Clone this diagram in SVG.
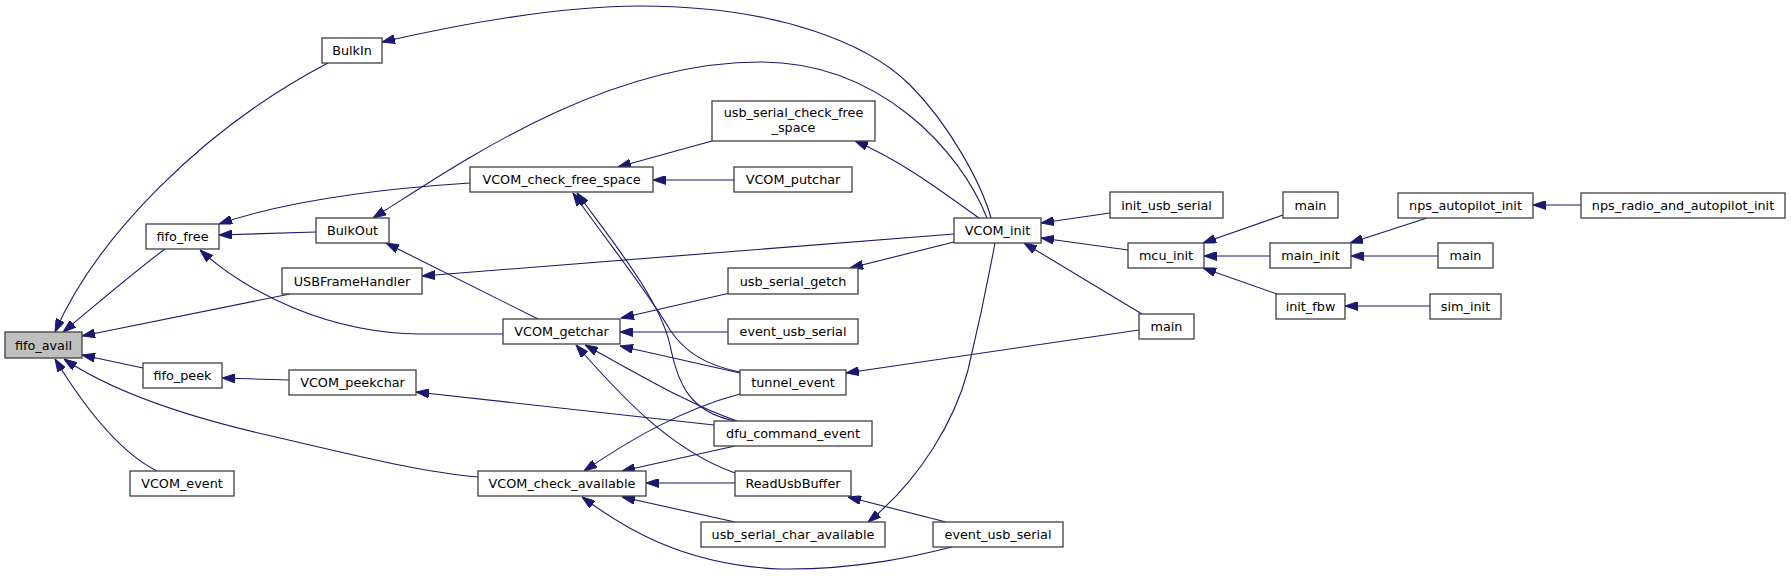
<svg xmlns="http://www.w3.org/2000/svg" width="1791" height="576" viewBox="0 0 1791 576">
<defs>
<marker id="ah" viewBox="0 0 13 9" refX="13" refY="4.5" markerWidth="13" markerHeight="9" markerUnits="userSpaceOnUse" orient="auto-start-reverse">
<path d="M0,0 L13,4.5 L0,9 z" fill="#191970" stroke="#191970" stroke-width="1"/>
</marker>
<style>
.n rect{fill:#fff;stroke:#404040;stroke-width:1.3}
.n text{font-family:"DejaVu Sans",sans-serif;font-size:12.8px;fill:#000;text-anchor:middle}
#fifo_avail rect{fill:#bfbfbf}
#edges path{fill:none;stroke:#191970;stroke-width:1.1;marker-start:url(#ah)}
</style>
</defs>
<rect width="1791" height="576" fill="#fff"/>
<g id="edges">
<path d="M55,332 C 95,240 200,130 328,63"/>
<path d="M63,332 C 90,310 130,275 165,249"/>
<path d="M82,336 L290,294"/>
<path d="M82,355 L143,368"/>
<path d="M55,359 C 80,400 115,450 157,471"/>
<path d="M64,359 C 110,390 180,415 267,435 S 420,472 478,477"/>
<path d="M219,224 C 260,210 330,192 470,183"/>
<path d="M219,235 L316,232"/>
<path d="M200,250 C 250,295 330,333 420,334 L503,334"/>
<path d="M222,378 L289,380"/>
<path d="M382,42 C 470,22 560,6 640,6 C 780,6 870,45 910,85 C 950,125 982,185 991,218"/>
<path d="M373,218 C 450,170 600,62 760,62 C 880,62 960,150 987,218"/>
<path d="M386,243 L538,319"/>
<path d="M618,167 L712,141"/>
<path d="M653,180 L734,180"/>
<path d="M573,193 C 610,245 650,295 670,330 C 685,352 705,365 740,372"/>
<path d="M577,193 C 615,245 660,300 670,345 C 678,385 690,412 735,421"/>
<path d="M855,141 C 900,160 940,190 979,218"/>
<path d="M422,276 L954,234"/>
<path d="M1041,223 L1110,213"/>
<path d="M1041,238 L1128,250"/>
<path d="M1024,243 L1142,314"/>
<path d="M850,268 L954,242"/>
<path d="M868,522 C 920,480 955,420 968,370 C 980,320 990,270 995,243"/>
<path d="M621,318 L730,293"/>
<path d="M620,332 L728,332"/>
<path d="M620,346 L740,373"/>
<path d="M585,345 C 640,375 690,405 737,421"/>
<path d="M576,345 C 620,395 670,450 735,473"/>
<path d="M416,392 L714,425"/>
<path d="M584,471 C 630,440 680,410 740,394"/>
<path d="M622,471 L735,446"/>
<path d="M646,483 L735,483"/>
<path d="M622,497 L735,522"/>
<path d="M582,497 C 620,525 680,565 780,569 C 860,570 920,555 952,547"/>
<path d="M848,497 L946,522"/>
<path d="M846,373 L1139,330"/>
<path d="M1203,243 L1283,215"/>
<path d="M1204,256 L1270,256"/>
<path d="M1203,268 L1277,294"/>
<path d="M1350,243 L1427,218"/>
<path d="M1351,256 L1438,256"/>
<path d="M1345,306 L1430,306"/>
<path d="M1533,205 L1581,205"/>
</g>
<g id="fifo_avail" class="n"><rect x="5" y="332" width="77" height="26"/><text x="43.5" y="349.5">fifo_avail</text></g>
<g id="BulkIn" class="n"><rect x="322" y="38" width="60" height="25"/><text x="352" y="55">BulkIn</text></g>
<g id="fifo_free" class="n"><rect x="146" y="224" width="73" height="25"/><text x="182.5" y="241">fifo_free</text></g>
<g id="BulkOut" class="n"><rect x="316" y="218" width="73" height="25"/><text x="352.5" y="235">BulkOut</text></g>
<g id="USBFrameHandler" class="n"><rect x="282" y="268" width="140" height="26"/><text x="352" y="285.5">USBFrameHandler</text></g>
<g id="fifo_peek" class="n"><rect x="143" y="363" width="79" height="25"/><text x="182.5" y="380">fifo_peek</text></g>
<g id="VCOM_peekchar" class="n"><rect x="289" y="370" width="127" height="25"/><text x="352.5" y="387">VCOM_peekchar</text></g>
<g id="VCOM_event" class="n"><rect x="130" y="471" width="104" height="25"/><text x="182" y="488">VCOM_event</text></g>
<g id="VCOM_check_free_space" class="n"><rect x="470" y="167" width="183" height="25"/><text x="561.5" y="184">VCOM_check_free_space</text></g>
<g id="VCOM_getchar" class="n"><rect x="503" y="319" width="117" height="25"/><text x="561.5" y="336">VCOM_getchar</text></g>
<g id="VCOM_check_available" class="n"><rect x="478" y="471" width="168" height="25"/><text x="562" y="488">VCOM_check_available</text></g>
<g id="usb_serial_check_free_space" class="n"><rect x="712" y="101" width="163" height="40"/><text x="793.5" y="117">usb_serial_check_free</text><text x="793.5" y="132">_space</text></g>
<g id="VCOM_putchar" class="n"><rect x="734" y="167" width="118" height="25"/><text x="793" y="184">VCOM_putchar</text></g>
<g id="usb_serial_getch" class="n"><rect x="728" y="268" width="130" height="26"/><text x="793" y="285.5">usb_serial_getch</text></g>
<g id="event_usb_serial_1" class="n"><rect x="728" y="319" width="130" height="25"/><text x="793" y="336">event_usb_serial</text></g>
<g id="tunnel_event" class="n"><rect x="740" y="370" width="106" height="25"/><text x="793" y="387">tunnel_event</text></g>
<g id="dfu_command_event" class="n"><rect x="714" y="421" width="158" height="25"/><text x="793" y="438">dfu_command_event</text></g>
<g id="ReadUsbBuffer" class="n"><rect x="735" y="471" width="116" height="25"/><text x="793" y="488">ReadUsbBuffer</text></g>
<g id="usb_serial_char_available" class="n"><rect x="701" y="522" width="184" height="25"/><text x="793" y="539">usb_serial_char_available</text></g>
<g id="VCOM_init" class="n"><rect x="954" y="218" width="87" height="25"/><text x="997.5" y="235">VCOM_init</text></g>
<g id="event_usb_serial_2" class="n"><rect x="933" y="522" width="130" height="25"/><text x="998" y="539">event_usb_serial</text></g>
<g id="init_usb_serial" class="n"><rect x="1110" y="192" width="113" height="26"/><text x="1166.5" y="209.5">init_usb_serial</text></g>
<g id="mcu_init" class="n"><rect x="1128" y="243" width="76" height="25"/><text x="1166" y="260">mcu_init</text></g>
<g id="main_1" class="n"><rect x="1139" y="314" width="55" height="25"/><text x="1166.5" y="331">main</text></g>
<g id="main_2" class="n"><rect x="1283" y="192" width="55" height="26"/><text x="1310.5" y="209.5">main</text></g>
<g id="main_init" class="n"><rect x="1270" y="243" width="81" height="25"/><text x="1310.5" y="260">main_init</text></g>
<g id="init_fbw" class="n"><rect x="1276" y="294" width="69" height="25"/><text x="1310.5" y="311">init_fbw</text></g>
<g id="nps_autopilot_init" class="n"><rect x="1398" y="193" width="135" height="25"/><text x="1465.5" y="210">nps_autopilot_init</text></g>
<g id="main_3" class="n"><rect x="1438" y="243" width="55" height="25"/><text x="1465.5" y="260">main</text></g>
<g id="sim_init" class="n"><rect x="1430" y="294" width="71" height="25"/><text x="1465.5" y="311">sim_init</text></g>
<g id="nps_radio_and_autopilot_init" class="n"><rect x="1581" y="193" width="204" height="25"/><text x="1683" y="210">nps_radio_and_autopilot_init</text></g>
</svg>
